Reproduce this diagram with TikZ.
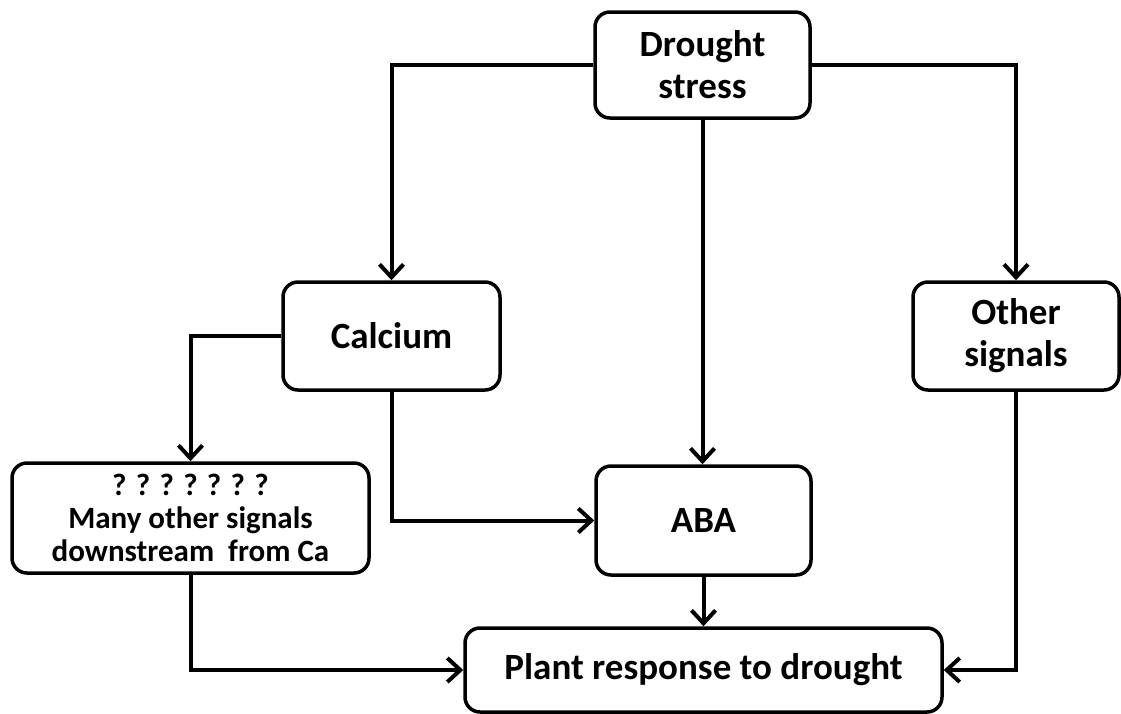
\documentclass[tikz,border=0pt]{standalone}
\usepackage{fontspec}
\setmainfont{Carlito}
\usetikzlibrary{arrows.meta}
\tikzset{line/.style={draw, line width=4pt, -{Straight Barb[length=13pt,width=24pt]}}}

\begin{document}
\begin{tikzpicture}[x=1pt, y=-1pt]
\tikzstyle{block} = [rectangle, rounded corners=15pt, draw, line width=3.5pt, align=center, inner sep=0pt, font=\bfseries\fontsize{37}{42}\selectfont]
\tikzstyle{small} = [font=\bfseries\fontsize{31}{33}\selectfont]

\fill[white] (0,0) rectangle (1121,713);
\useasboundingbox (0,0) rectangle (1121,713);

\node [block, minimum width=215pt, minimum height=106pt] (drought) at (702.5,65) {Drought\\stress};
\node [block, minimum width=217pt, minimum height=108pt] (calcium) at (391.5,336) {Calcium};
\node [block, minimum width=206pt, minimum height=108pt] (other) at (1016,336) {Other\\signals};
\node [block, small, minimum width=357pt, minimum height=110pt] (many) at (190.5,518) {? ? ? ? ? ? ?\\Many other signals\\downstream\ \ from Ca};
\node [block, minimum width=215pt, minimum height=109pt] (aba) at (703.5,520.5) {ABA};
\node [block, minimum width=477pt, minimum height=84pt] (plant) at (703.5,670) {Plant response to drought};

% arrows
\draw [line] (drought.west) -| (calcium.north);
\draw [line] (drought.east) -| (other.north);
\draw [line] (drought.south) -- (drought.south |- aba.north);
\draw [line] (calcium.west) -| (many.north);
\draw [line] (calcium.south) |- (aba.west);
\draw [line] (many.south) |- (plant.west);
\draw [line] (aba.south) -- (plant.north);
\draw [line] (other.south) |- (plant.east);

\end{tikzpicture}
\end{document}
